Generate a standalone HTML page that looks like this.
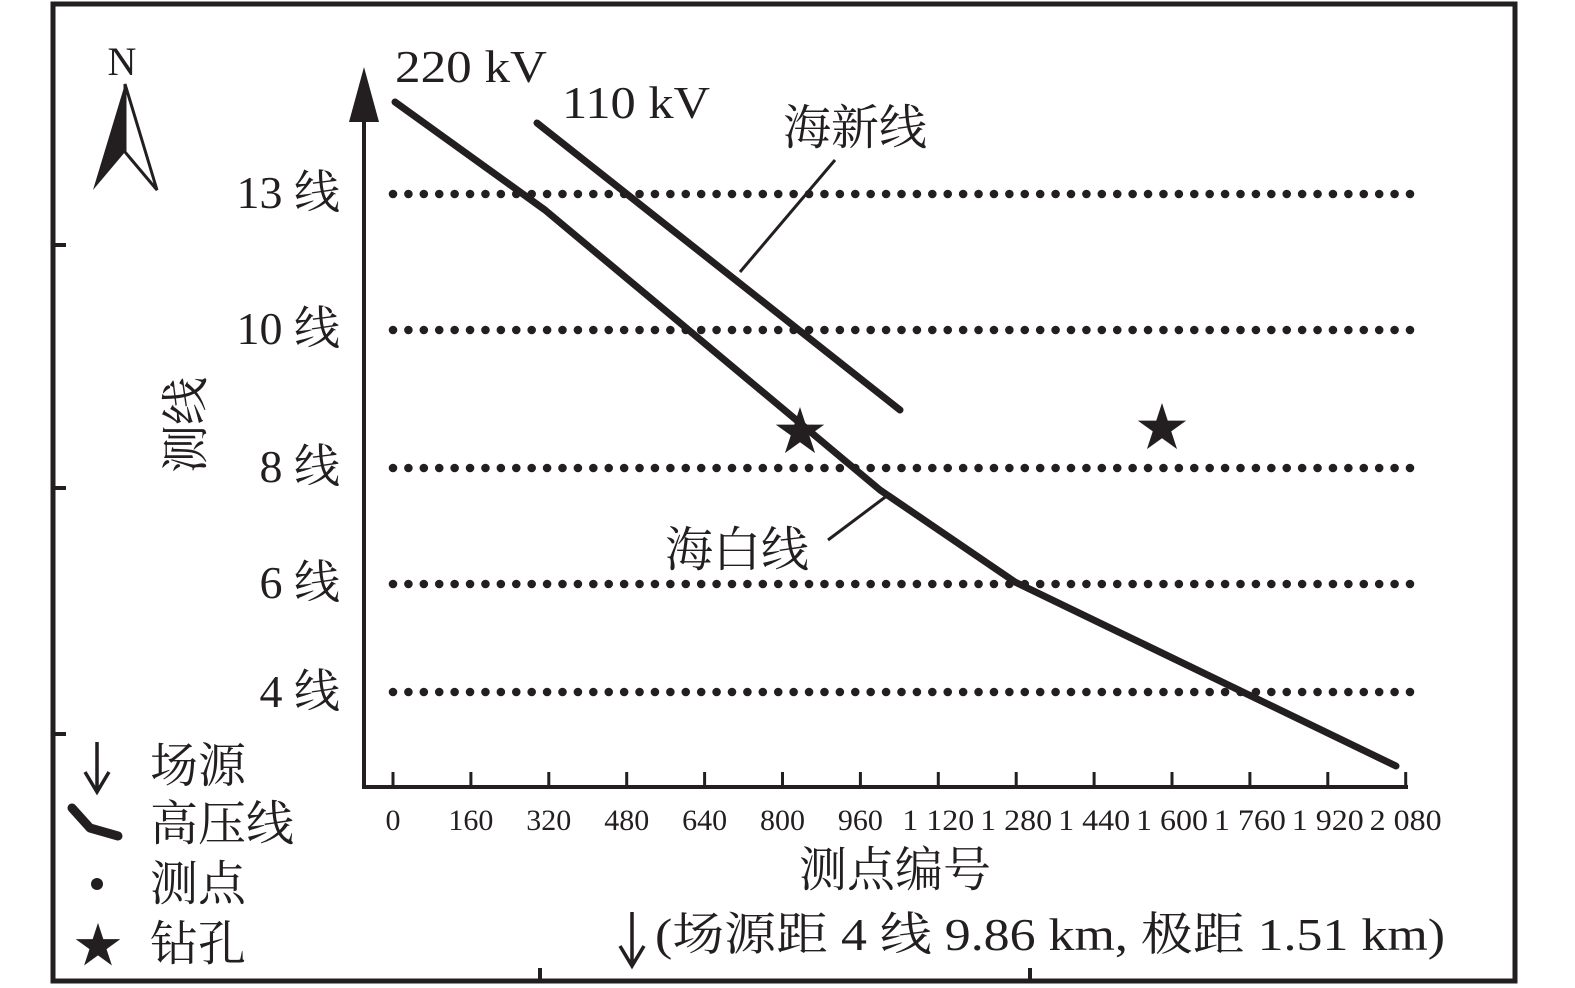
<!DOCTYPE html>
<html><head><meta charset="utf-8"><style>
html,body{margin:0;padding:0;background:#fff}
svg{display:block}
text{font-family:"Liberation Serif","Noto Serif CJK SC",serif;fill:#231f20}
</style></head><body>
<svg width="1575" height="988" viewBox="0 0 1575 988" xmlns="http://www.w3.org/2000/svg">
<rect x="53" y="4" width="1462" height="977" fill="none" stroke="#231f20" stroke-width="5"/>
<g stroke="#231f20" stroke-width="4">
<line x1="51" y1="245" x2="66" y2="245"/><line x1="51" y1="488" x2="66" y2="488"/><line x1="51" y1="734" x2="66" y2="734"/>
<line x1="540" y1="983" x2="540" y2="968"/><line x1="1030" y1="983" x2="1030" y2="968"/>
</g>
<text x="122" y="75" font-size="40" text-anchor="middle">N</text>
<polygon points="125,84 93,190 125,152" fill="#231f20"/>
<polygon points="125,84 157,190 125,152" fill="#fff" stroke="#231f20" stroke-width="3"/>
<line x1="364" y1="118" x2="364" y2="789" stroke="#231f20" stroke-width="4"/>
<polygon points="364,67 349,122 379,122" fill="#231f20"/>
<line x1="362" y1="787" x2="1408" y2="787" stroke="#231f20" stroke-width="4"/>
<g stroke="#231f20" stroke-width="3" id="ticks"></g>
<g id="tl"></g>
<g id="dots" fill="#231f20"></g>
<polyline points="395,102 545,210 880,490 1015,582 1396,766" fill="none" stroke="#231f20" stroke-width="7" stroke-linejoin="round" stroke-linecap="round"/>
<line x1="537" y1="123" x2="900" y2="410" stroke="#231f20" stroke-width="7" stroke-linecap="round"/>
<line x1="740" y1="272" x2="835" y2="160" stroke="#231f20" stroke-width="3"/>
<line x1="828" y1="540" x2="888" y2="495" stroke="#231f20" stroke-width="3"/>
<text x="395" y="82" font-size="46" textLength="152" lengthAdjust="spacingAndGlyphs">220 kV</text>
<text x="562" y="118" font-size="46" textLength="148" lengthAdjust="spacingAndGlyphs">110 kV</text>
<text x="783" y="144" font-size="48">海新线</text>
<text x="665" y="566" font-size="48">海白线</text>
<text x="800" y="450" font-size="52" text-anchor="middle">★</text>
<text x="1162" y="446" font-size="52" text-anchor="middle">★</text>
<g font-size="46" text-anchor="end">
<text x="340" y="208">13 线</text>
<text x="340" y="344">10 线</text>
<text x="340" y="482">8 线</text>
<text x="340" y="598">6 线</text>
<text x="340" y="707">4 线</text>
</g>
<text transform="translate(202,425) rotate(-90)" font-size="48" text-anchor="middle">测线</text>
<text x="895" y="886" font-size="48" text-anchor="middle">测点编号</text>
<text x="655" y="950" font-size="46" textLength="790" lengthAdjust="spacingAndGlyphs">(场源距 4 线 9.86 km, 极距 1.51 km)</text>
<g fill="none" stroke="#231f20" stroke-width="3.5">
<path d="M632,912 V964 M620,946 L632,966 L644,946"/>
<path d="M97,742 V790 M85,772 L97,792 L109,772"/>
</g>
<g font-size="48">
<text x="150" y="782">场源</text>
<text x="150" y="840">高压线</text>
<text x="150" y="900">测点</text>
<text x="74" y="962">★</text><text x="150" y="960">钻孔</text>
</g>
<polyline points="72,808 90,828 118,836" fill="none" stroke="#231f20" stroke-width="9" stroke-linecap="round" stroke-linejoin="round"/>
<circle cx="97" cy="884" r="6" fill="#231f20"/>
</svg>
<script>
(function(){
var ns="http://www.w3.org/2000/svg";
var t=document.getElementById("ticks"),l=document.getElementById("tl"),d=document.getElementById("dots");
var labs=["0","160","320","480","640","800","960","1 120","1 280","1 440","1 600","1 760","1 920","2 080"];
for(var i=0;i<14;i++){var x=393+i*77.9;
var ln=document.createElementNS(ns,"line");ln.setAttribute("x1",x);ln.setAttribute("x2",x);ln.setAttribute("y1",787);ln.setAttribute("y2",772);t.appendChild(ln);
var tx=document.createElementNS(ns,"text");tx.setAttribute("x",x);tx.setAttribute("y",830);tx.setAttribute("font-size","30");tx.setAttribute("text-anchor","middle");if(labs[i].length>3){tx.setAttribute("textLength","72");tx.setAttribute("lengthAdjust","spacingAndGlyphs");}tx.textContent=labs[i];l.appendChild(tx);}
var rows=[194,330,468,584,692];
rows.forEach(function(y){for(var k=0;k<=66;k++){var x=393+k*(1017/66);var c=document.createElementNS(ns,"circle");c.setAttribute("cx",x);c.setAttribute("cy",y);c.setAttribute("r",4.3);d.appendChild(c);}});
})();
</script>
</body></html>
